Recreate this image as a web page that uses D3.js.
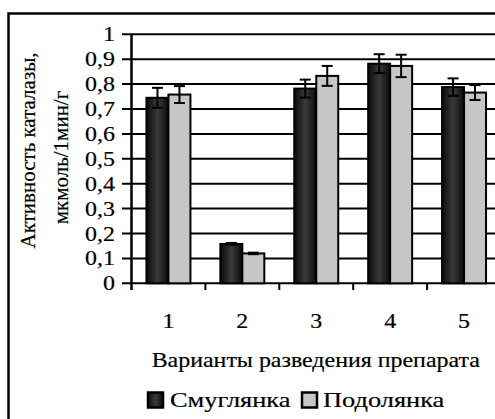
<!DOCTYPE html>
<html><head><meta charset="utf-8">
<script src="https://cdn.jsdelivr.net/npm/d3@7"></script>
<style>body{margin:0;background:#fff;overflow:hidden}svg{display:block}</style>
</head><body>
<svg id="c" width="495" height="419"></svg>
<script>
const categories = ["1","2","3","4","5"];
const seriesNames = ["Смуглянка","Подолянка"];
const smuglyanka = [0.745, 0.158, 0.782, 0.882, 0.788];
const smuglyankaErr = [0.04, 0.004, 0.036, 0.038, 0.035];
const podolyanka = [0.758, 0.12, 0.833, 0.873, 0.766];
const podolyankaErr = [0.034, 0.003, 0.04, 0.045, 0.03];
const yTicks = [0,0.1,0.2,0.3,0.4,0.5,0.6,0.7,0.8,0.9,1];
const xTitle = "Варианты разведения препарата";
const yTitle1 = "Активность каталазы,";
const yTitle2 = "мкмоль/1мин/г";

const FONT = "'Liberation Serif','Times New Roman',Tinos,'DejaVu Serif','Noto Serif',serif";
const SX = 1.14;
const svg = d3.select("#c").attr("font-family", FONT);
const defs = svg.append("defs");
const g1 = defs.append("linearGradient").attr("id","dark").attr("x1","0").attr("x2","1").attr("y1","0").attr("y2","0");
g1.append("stop").attr("offset","0").attr("stop-color","#0a0a0a");
g1.append("stop").attr("offset","0.5").attr("stop-color","#3a3a3a");
g1.append("stop").attr("offset","1").attr("stop-color","#0a0a0a");

const L = 131.5, R = 501, T = 34.3, B = 283.3;
const x0 = d3.scaleBand().domain(categories).range([L, R]).paddingInner(0.405).paddingOuter(0.2025);
const x1 = d3.scaleBand().domain(seriesNames).range([0, x0.bandwidth()]);
const y = d3.scaleLinear().domain([0,1]).range([B, T]);
const fmt = d => d3.format(".1~f")(d).replace(".", ",");

function style(t, size){
  return t.attr("font-size",size).attr("font-family",FONT).attr("fill","#000")
    .attr("stroke","#000").attr("stroke-width",0.2);
}
function htext(parent, x, yy, s, size, anchor, sx){
  const g = parent.append("g").attr("transform",`translate(${x},${yy})`);
  style(g.append("text").attr("transform",`scale(${sx||SX},1)`).attr("text-anchor",anchor||"start"), size).text(s);
  return g;
}

// frame
svg.append("rect").attr("x",8.5).attr("y",13.5).attr("width",520).attr("height",450)
  .attr("fill","none").attr("stroke","#000").attr("stroke-width",2.5);

// grid lines + y tick labels
svg.append("g").selectAll("line").data(yTicks).join("line")
  .attr("x1",122).attr("x2",R).attr("y1",d=>y(d)).attr("y2",d=>y(d))
  .attr("stroke","#000").attr("stroke-width",2);
const yl = svg.append("g");
yTicks.forEach(t=>htext(yl, 115, y(t)+7, fmt(t), 21, "end"));

// bars
const rows = categories.map((c,i)=>({c, vals:[
  {s:seriesNames[0], v:smuglyanka[i], e:smuglyankaErr[i]},
  {s:seriesNames[1], v:podolyanka[i], e:podolyankaErr[i]}]}));
const grp = svg.append("g").selectAll("g").data(rows).join("g")
  .attr("transform",d=>`translate(${x0(d.c)},0)`);
grp.selectAll("rect").data(d=>d.vals).join("rect")
  .attr("x",d=>x1(d.s)).attr("width",x1.bandwidth())
  .attr("y",d=>y(d.v)).attr("height",d=>B-y(d.v))
  .attr("fill",d=>d.s===seriesNames[0]?"url(#dark)":"#c6c6c6")
  .attr("stroke","#000").attr("stroke-width",2);
// error bars
const eb = grp.selectAll("g.eb").data(d=>d.vals).join("g").attr("class","eb")
  .attr("stroke","#000").attr("stroke-width",2);
const cx = d=>x1(d.s)+x1.bandwidth()/2;
eb.append("line").attr("x1",cx).attr("x2",cx)
  .attr("y1",d=>y(d.v-d.e)).attr("y2",d=>y(d.v+d.e));
eb.append("line").attr("x1",d=>cx(d)-5.5).attr("x2",d=>cx(d)+5.5)
  .attr("y1",d=>y(d.v+d.e)).attr("y2",d=>y(d.v+d.e));
eb.append("line").attr("x1",d=>cx(d)-5.5).attr("x2",d=>cx(d)+5.5)
  .attr("y1",d=>y(d.v-d.e)).attr("y2",d=>y(d.v-d.e));

// axes lines
svg.append("line").attr("x1",L).attr("x2",L).attr("y1",T).attr("y2",290).attr("stroke","#000").attr("stroke-width",2.5);
const step = x0.step();
svg.append("g").selectAll("line").data(categories.slice(1)).join("line")
  .attr("x1",d=>x0(d)-step*0.405/2).attr("x2",d=>x0(d)-step*0.405/2)
  .attr("y1",B).attr("y2",290).attr("stroke","#000").attr("stroke-width",2);
const xl = svg.append("g");
categories.forEach(c=>htext(xl, x0(c)+x0.bandwidth()/2, 328, c, 21, "middle"));

htext(svg, (L+R)/2-0.5, 367, xTitle, 21, "middle");
style(svg.append("text").attr("transform","translate(35,150.5) rotate(-90)").attr("text-anchor","middle"), 21).text(yTitle1);
style(svg.append("text").attr("transform","translate(68,157.5) rotate(-90)").attr("text-anchor","middle"), 21).text(yTitle2);

// legend
const legX = [147, 301], txtX = [170, 323];
const leg = svg.append("g");
seriesNames.forEach((s,i)=>{
  leg.append("rect").attr("x",legX[i]+1).attr("y",392.5).attr("width",15).attr("height",15)
    .attr("fill",i?"#c6c6c6":"url(#dark)").attr("stroke","#000").attr("stroke-width",2.5);
  htext(leg, txtX[i], 407, s, 22, "start", 1.2);
});
</script>
</body></html>
